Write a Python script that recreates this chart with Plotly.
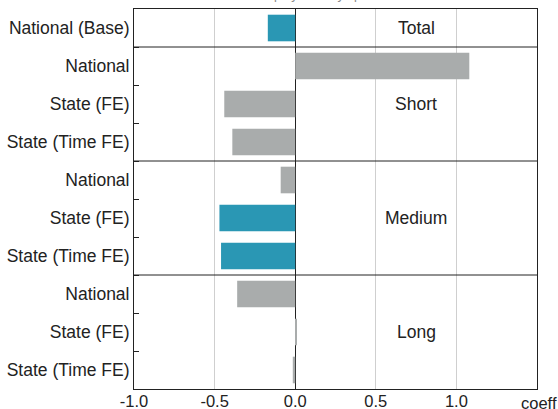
import plotly.graph_objects as go

# rows, top to bottom
row_labels = [
    "National (Base)",
    "National", "State (FE)", "State (Time FE)",
    "National", "State (FE)", "State (Time FE)",
    "National", "State (FE)", "State (Time FE)",
]
horizons = ["Total", "Short", "Short", "Short",
            "Medium", "Medium", "Medium",
            "Long", "Long", "Long"]
coeffs = [-0.17, 1.08, -0.44, -0.39, -0.09, -0.47, -0.46, -0.36, 0.005, -0.015]
highlight = [True, False, False, False, False, True, True, False, False, False]
group_names = ["Total", "Short", "Medium", "Long"]
x_ticks = [-1.0, -0.5, 0.0, 0.5, 1.0]

TEAL = "#2a97b4"
GREY = "#a9acac"
FONT = "Liberation Sans, Arial, sans-serif"

rows = list(range(len(row_labels)))
colors = [TEAL if h else GREY for h in highlight]

fig = go.Figure()
fig.add_trace(go.Bar(
    x=coeffs,
    y=rows,
    orientation="h",
    width=0.7,
    marker=dict(color=colors, line=dict(width=0)),
    hovertext=[f"{h} – {l}" for h, l in zip(horizons, row_labels)],
    showlegend=False,
))

# boundaries between rows and between horizon groups
boundaries = [i + 0.5 for i in rows[:-1]]
group_breaks = [i + 0.5 for i in rows[:-1] if horizons[i] != horizons[i + 1]]

for yb in group_breaks:
    fig.add_shape(type="line", xref="paper", x0=0, x1=1, y0=yb, y1=yb,
                  line=dict(color="#222", width=1))

# group labels in the middle of each block
for g in group_names:
    idx = [i for i, h in enumerate(horizons) if h == g]
    fig.add_annotation(x=0.75, y=sum(idx) / len(idx), text=g, showarrow=False,
                       font=dict(size=17.5, color="#222", family=FONT))

fig.add_annotation(xref="paper", yref="paper", x=0.955, y=0, xanchor="left",
                   yanchor="top", yshift=-3, text="coeff", showarrow=False,
                   font=dict(size=16.5, color="#222", family=FONT))

# title (mostly outside the page at the top)
fig.add_annotation(xref="paper", yref="paper", x=0.04, y=1.013, xanchor="left",
                   yanchor="bottom",
                   text="Coefficients on unemployment by specification and duration",
                   showarrow=False,
                   font=dict(size=13, color="#8a8a8a", family=FONT))

fig.update_xaxes(
    range=[-1.0, 1.5],
    tickvals=x_ticks,
    ticktext=[f"{v:.1f}" for v in x_ticks],
    showgrid=True, gridcolor="#cfcfcf", gridwidth=1,
    zeroline=True, zerolinecolor="#222", zerolinewidth=1,
    showline=True, linecolor="#222", linewidth=1, mirror=True,
    ticks="", ticklabelstandoff=-3, automargin=False,
    tickfont=dict(size=16.5, color="#222", family=FONT),
)
fig.update_yaxes(
    range=[len(rows) - 0.5, -0.5],
    tickvals=rows,
    ticktext=row_labels,
    showgrid=False, zeroline=False,
    showline=True, linecolor="#222", linewidth=1, mirror=True,
    ticks="", ticklabelstandoff=0, automargin=False,
    tickfont=dict(size=17.5, color="#222", family=FONT),
    minor=dict(tickmode="array", tickvals=boundaries, ticks="inside",
               ticklen=5, tickcolor="#222", tickwidth=1, showgrid=False),
)

fig.update_layout(
    width=558, height=409,
    margin=dict(l=134, r=21, t=9, b=20),
    plot_bgcolor="white", paper_bgcolor="white",
    font=dict(family=FONT, color="#222"),
    bargap=0.3,
)

fig.write_html("out.html", config={"displayModeBar": False},
               post_script="document.body.style.margin='0';")
